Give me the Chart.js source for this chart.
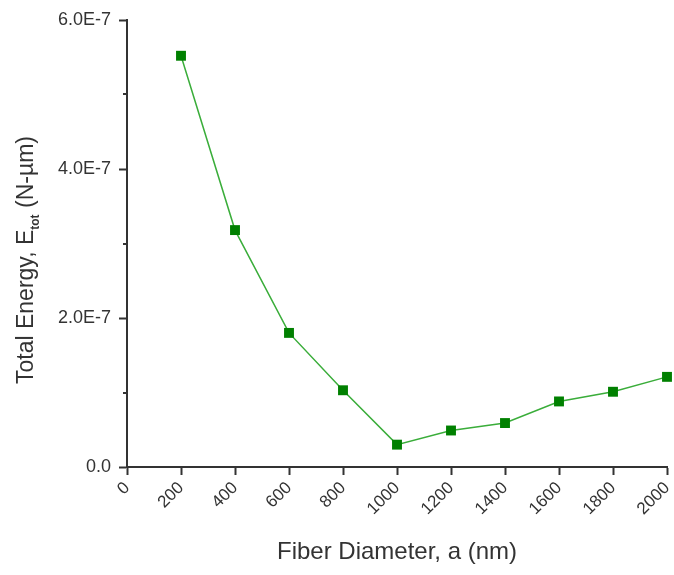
<!DOCTYPE html>
<html>
<head>
<meta charset="utf-8">
<script src="https://cdn.jsdelivr.net/npm/chart.js@4/dist/chart.umd.min.js"></script>
<style>
  html, body { margin: 0; padding: 0; background: #fff; }
  #wrap { width: 674px; height: 575px; }
</style>
</head>
<body>
<div id="wrap"><canvas id="chart"></canvas></div>
<script>
// fiber diameter (nm) vs total energy (N-um)
const diameters = [200, 400, 600, 800, 1000, 1200, 1400, 1600, 1800, 2000];
const energies = [5.52e-7, 3.18e-7, 1.80e-7, 1.03e-7, 0.30e-7, 0.49e-7, 0.59e-7, 0.88e-7, 1.01e-7, 1.21e-7];
const yMinorTicks = [1e-7, 3e-7, 5e-7];

const FONT = '"Liberation Sans", Arial, sans-serif';
const INK = '#333333';

// y title has a subscript, so it is drawn by hand
const yTitle = {
  id: 'yTitle',
  afterDraw(chart) {
    const ctx = chart.ctx;
    const parts = [
      { t: 'Total Energy, E', size: 23, dy: 0 },
      { t: 'tot', size: 12, dy: 6, bold: true },
      { t: ' (N-\u00b5m)', size: 23, dy: 0 }
    ];
    ctx.save();
    let total = 0;
    parts.forEach(p => {
      ctx.font = (p.bold ? 'bold ' : '') + p.size + 'px ' + FONT;
      p.w = ctx.measureText(p.t).width;
      total += p.w;
    });
    ctx.translate(33, 260);
    ctx.rotate(-Math.PI / 2);
    ctx.fillStyle = INK;
    ctx.textBaseline = 'alphabetic';
    let x = -total / 2;
    parts.forEach(p => {
      ctx.font = (p.bold ? 'bold ' : '') + p.size + 'px ' + FONT;
      ctx.fillText(p.t, x, p.dy);
      x += p.w;
    });
    ctx.restore();
  }
};

// short minor ticks on the y axis
const minorTicks = {
  id: 'minorTicks',
  afterDraw(chart) {
    const ctx = chart.ctx;
    const y = chart.scales.y;
    ctx.save();
    ctx.strokeStyle = INK;
    ctx.lineWidth = 2;
    yMinorTicks.forEach(v => {
      const py = Math.round(y.getPixelForValue(v));
      ctx.beginPath();
      ctx.moveTo(y.right - 4, py);
      ctx.lineTo(y.right, py);
      ctx.stroke();
    });
    ctx.restore();
  }
};

new Chart(document.getElementById('chart'), {
  type: 'line',
  data: {
    datasets: [{
      data: diameters.map((d, i) => ({ x: d, y: energies[i] })),
      borderColor: '#3aad3a',
      borderWidth: 1.5,
      pointStyle: 'rect',
      pointRadius: 7,
      pointBackgroundColor: '#008000',
      pointBorderColor: '#008000',
      pointBorderWidth: 0,
      tension: 0,
      clip: false
    }]
  },
  options: {
    responsive: true,
    maintainAspectRatio: false,
    animation: false,
    layout: { padding: { top: 20, right: 5, left: 0, bottom: 0 } },
    plugins: {
      legend: { display: false },
      tooltip: { enabled: false }
    },
    scales: {
      x: {
        type: 'linear',
        min: 0,
        max: 2000,
        afterFit: s => { s.height = 108; s.paddingRight = 0; },
        border: { display: true, color: INK, width: 2 },
        grid: { drawOnChartArea: false, drawTicks: true, tickLength: 8, tickColor: INK, tickWidth: 2 },
        ticks: {
          stepSize: 200,
          minRotation: 45,
          maxRotation: 45,
          padding: 3,
          color: INK,
          font: { family: FONT, size: 17 },
          callback: v => String(v)
        },
        title: {
          display: true,
          text: 'Fiber Diameter, a (nm)',
          color: INK,
          font: { family: FONT, size: 24 },
          padding: { top: 0, bottom: 8 }
        }
      },
      y: {
        min: 0,
        max: 6e-7,
        afterFit: s => { s.width = 127; },
        border: { display: true, color: INK, width: 2 },
        grid: { drawOnChartArea: false, drawTicks: true, tickLength: 8, tickColor: INK, tickWidth: 2 },
        ticks: {
          stepSize: 2e-7,
          padding: 8,
          color: INK,
          font: { family: FONT, size: 18 },
          callback: v => v === 0 ? '0.0' : v.toExponential(1).replace('e', 'E')
        }
      }
    }
  },
  plugins: [yTitle, minorTicks]
});
</script>
</body>
</html>
